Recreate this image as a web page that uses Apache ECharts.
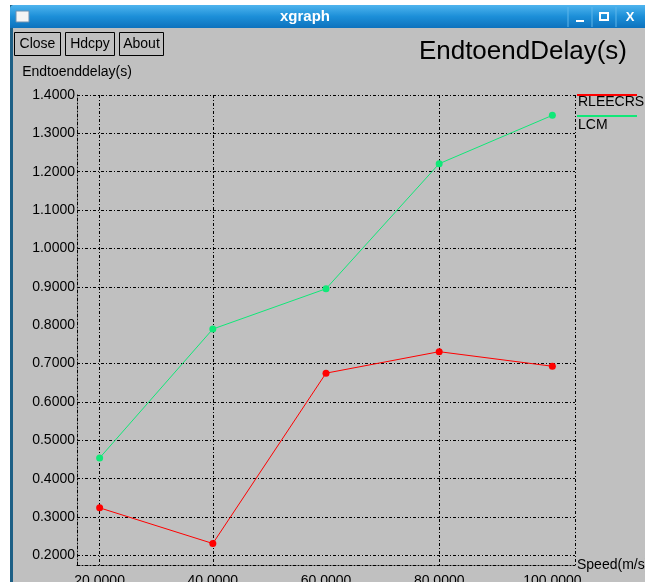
<!DOCTYPE html>
<html>
<head>
<meta charset="utf-8">
<title>xgraph</title>
<script src="https://cdn.jsdelivr.net/npm/echarts@6/dist/echarts.min.js"></script>
<style>
  html, body { margin: 0; padding: 0; background: #fff; }
  #chart { width: 645px; height: 582px; }
</style>
</head>
<body>
<div id="chart"></div>
<script>
// data
const speeds = [20, 40, 60, 80, 100];
const rleecrsDelay = [0.324, 0.231, 0.675, 0.731, 0.693];
const lcmDelay = [0.454, 0.790, 0.895, 1.221, 1.347];
const seriesNames = ['RLEECRS', 'LCM'];

// tick labels
const xTicks = [20, 40, 60, 80, 100];
const xTickLabels = ['20.0000', '40.0000', '60.0000', '80.0000', '100.0000'];
const yTicks = [0.2, 0.3, 0.4, 0.5, 0.6, 0.7, 0.8, 0.9, 1.0, 1.1, 1.2, 1.3, 1.4];
const yTickLabels = ['0.2000', '0.3000', '0.4000', '0.5000', '0.6000', '0.7000', '0.8000',
                     '0.9000', '1.0000', '1.1000', '1.2000', '1.3000', '1.4000'];

// grid lines that show up in the picture (plus the frame edges)
const xGridShown = [20, 40, 80, 104];
const yGridShown = [0.2, 0.3, 0.4, 0.5, 0.6, 0.7, 0.9, 1.0, 1.1, 1.2, 1.3, 1.4];

const font = 'Liberation Sans, Arial, sans-serif';
const dashDot = [3, 2, 1, 2];

function findLabel(v, ticks, labels) {
    for (let i = 0; i < ticks.length; i++) {
        if (Math.abs(v - ticks[i]) < 1e-6) return labels[i];
    }
    return '';
}

// one colour per fine tick, black only where a line is drawn
function gridColors(min, max, step, shown) {
    const out = [];
    const n = Math.round((max - min) / step);
    for (let i = 0; i <= n; i++) {
        const v = min + i * step;
        const on = shown.some(s => Math.abs(s - v) < 1e-6);
        out.push(on ? '#000' : 'rgba(0,0,0,0)');
    }
    return out;
}

const myChart = echarts.init(document.getElementById('chart'));

const option = {
    animation: false,
    backgroundColor: '#c0c0c0',
    textStyle: { fontFamily: font },
    title: {
        text: 'EndtoendDelay(s)',
        right: 18,
        top: 39,
        padding: 0,
        textStyle: { fontFamily: font, fontSize: 26, fontWeight: 'normal', color: '#000' }
    },
    grid: {
        left: 77,
        right: 70,
        top: 95,
        bottom: 17,
        containLabel: false,
        outerBoundsMode: 'none'
    },
    xAxis: {
        type: 'value',
        min: 16,
        max: 104,
        interval: 4,
        name: 'Speed(m/s)',
        nameLocation: 'end',
        nameGap: 2,
        nameTextStyle: { fontFamily: font, fontSize: 14, color: '#000' },
        axisLine: { show: true, onZero: false, lineStyle: { color: '#000', width: 1, type: dashDot } },
        axisTick: { show: false },
        axisLabel: {
            margin: 9,
            fontFamily: font,
            fontSize: 14,
            color: '#000',
            showMinLabel: true,
            showMaxLabel: true,
            formatter: v => findLabel(v, xTicks, xTickLabels)
        },
        splitLine: {
            show: true,
            lineStyle: { color: gridColors(16, 104, 4, xGridShown), width: 1, type: dashDot }
        }
    },
    yAxis: {
        type: 'value',
        min: 0.175,
        max: 1.4,
        interval: 0.025,
        name: 'Endtoenddelay(s)',
        nameLocation: 'end',
        nameGap: 16,
        nameTextStyle: { fontFamily: font, fontSize: 14, color: '#000', align: 'center' },
        axisLine: { show: true, onZero: false, lineStyle: { color: '#000', width: 1, type: dashDot } },
        axisTick: { show: false },
        axisLabel: {
            margin: 2,
            fontFamily: font,
            fontSize: 14,
            color: '#000',
            formatter: v => findLabel(v, yTicks, yTickLabels)
        },
        splitLine: {
            show: true,
            lineStyle: { color: gridColors(0.175, 1.4, 0.025, yGridShown), width: 1, type: dashDot }
        }
    },
    series: [
        {
            name: seriesNames[0],
            type: 'line',
            data: speeds.map((s, i) => [s, rleecrsDelay[i]]),
            symbol: 'circle',
            symbolSize: 7,
            color: '#ff0000',
            lineStyle: { color: '#ff0000', width: 1 },
            itemStyle: { color: '#ff0000' }
        },
        {
            name: seriesNames[1],
            type: 'line',
            data: speeds.map((s, i) => [s, lcmDelay[i]]),
            symbol: 'circle',
            symbolSize: 7,
            color: '#10e878',
            lineStyle: { color: '#10e878', width: 1 },
            itemStyle: { color: '#10e878' }
        }
    ],
    graphic: [
        // window frame
        { type: 'rect', shape: { x: 0, y: 0, width: 10, height: 582 }, style: { fill: '#fff' }, silent: true },
        { type: 'rect', shape: { x: 0, y: 0, width: 645, height: 5 }, style: { fill: '#fff' }, silent: true },
        { type: 'rect', shape: { x: 10, y: 5, width: 3, height: 577 }, style: { fill: '#1d5f85' }, silent: true },
        {
            type: 'rect',
            shape: { x: 10, y: 5, width: 635, height: 23, r: [4, 0, 0, 0] },
            style: {
                fill: {
                    type: 'linear', x: 0, y: 0, x2: 0, y2: 1,
                    colorStops: [
                        { offset: 0, color: '#4fb4ee' },
                        { offset: 0.5, color: '#1c8fd8' },
                        { offset: 1, color: '#0d72bd' }
                    ]
                }
            },
            silent: true
        },
        { type: 'rect', shape: { x: 16, y: 11, width: 13, height: 11 }, style: { fill: '#f4f4f4', stroke: '#6a8fb0', lineWidth: 1 }, silent: true },
        {
            type: 'text', x: 305, y: 17,
            style: { text: 'xgraph', fill: '#fff', font: 'bold 15px ' + font, textAlign: 'center', textVerticalAlign: 'middle' },
            silent: true
        },
        { type: 'line', shape: { x1: 568, y1: 7, x2: 568, y2: 27 }, style: { stroke: '#5fb6ea', lineWidth: 1 }, silent: true },
        { type: 'line', shape: { x1: 592, y1: 7, x2: 592, y2: 27 }, style: { stroke: '#5fb6ea', lineWidth: 1 }, silent: true },
        { type: 'line', shape: { x1: 616, y1: 7, x2: 616, y2: 27 }, style: { stroke: '#5fb6ea', lineWidth: 1 }, silent: true },
        { type: 'line', shape: { x1: 576, y1: 21, x2: 584, y2: 21 }, style: { stroke: '#fff', lineWidth: 2 }, silent: true },
        { type: 'rect', shape: { x: 600, y: 13, width: 8, height: 7 }, style: { fill: 'none', stroke: '#fff', lineWidth: 2 }, silent: true },
        {
            type: 'text', x: 630, y: 17,
            style: { text: 'X', fill: '#fff', font: 'bold 13px ' + font, textAlign: 'center', textVerticalAlign: 'middle' },
            silent: true
        },
        // xgraph buttons
        { type: 'rect', shape: { x: 14.5, y: 32.5, width: 46, height: 23 }, style: { fill: 'none', stroke: '#000', lineWidth: 1 }, silent: true },
        { type: 'rect', shape: { x: 65.5, y: 32.5, width: 49, height: 23 }, style: { fill: 'none', stroke: '#000', lineWidth: 1 }, silent: true },
        { type: 'rect', shape: { x: 119.5, y: 32.5, width: 44, height: 23 }, style: { fill: 'none', stroke: '#000', lineWidth: 1 }, silent: true },
        { type: 'text', x: 37.5, y: 44, style: { text: 'Close', fill: '#000', font: '14px ' + font, textAlign: 'center', textVerticalAlign: 'middle' }, silent: true },
        { type: 'text', x: 90, y: 44, style: { text: 'Hdcpy', fill: '#000', font: '14px ' + font, textAlign: 'center', textVerticalAlign: 'middle' }, silent: true },
        { type: 'text', x: 141.5, y: 44, style: { text: 'About', fill: '#000', font: '14px ' + font, textAlign: 'center', textVerticalAlign: 'middle' }, silent: true },
        // legend, xgraph style: line above the name
        { type: 'line', shape: { x1: 577, y1: 95, x2: 637, y2: 95 }, style: { stroke: '#ff0000', lineWidth: 2 }, silent: true },
        { type: 'text', x: 578, y: 102, style: { text: seriesNames[0], fill: '#000', font: '14px ' + font, textVerticalAlign: 'middle' }, silent: true },
        { type: 'line', shape: { x1: 577, y1: 116, x2: 637, y2: 116 }, style: { stroke: '#10e878', lineWidth: 2 }, silent: true },
        { type: 'text', x: 578, y: 125, style: { text: seriesNames[1], fill: '#000', font: '14px ' + font, textVerticalAlign: 'middle' }, silent: true }
    ]
};

myChart.setOption(option);
</script>
</body>
</html>
